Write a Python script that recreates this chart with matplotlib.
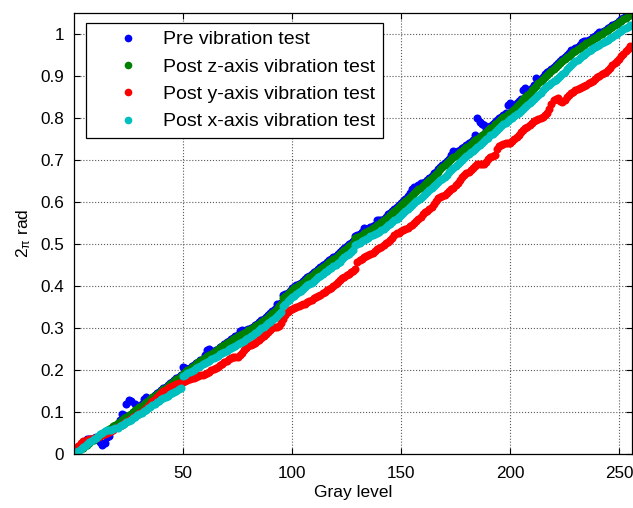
import matplotlib
matplotlib.use("Agg")
import matplotlib.pyplot as plt

# ========== data ==========
gray_levels = list(range(256))

pre_vibration = [
    0.002, 0.006, 0.010, 0.016, 0.024, 0.032, 0.035, 0.036, 0.036, 0.037,
    0.040, 0.035, 0.028, 0.022, 0.025, 0.040, 0.043, 0.058, 0.062, 0.066,
    0.072, 0.080, 0.095, 0.093, 0.118, 0.128, 0.126, 0.100, 0.120, 0.108,
    0.113, 0.120, 0.130, 0.136, 0.131, 0.128, 0.131, 0.140, 0.145, 0.147,
    0.152, 0.156, 0.160, 0.164, 0.168, 0.172, 0.176, 0.180, 0.184, 0.188,
    0.207, 0.205, 0.202, 0.205, 0.209, 0.212, 0.216, 0.220, 0.223, 0.227,
    0.235, 0.248, 0.250, 0.241, 0.244, 0.248, 0.251, 0.255, 0.258, 0.262,
    0.266, 0.269, 0.273, 0.276, 0.280, 0.284, 0.292, 0.295, 0.291, 0.294,
    0.297, 0.300, 0.303, 0.307, 0.310, 0.314, 0.318, 0.322, 0.326, 0.331,
    0.335, 0.340, 0.345, 0.358, 0.356, 0.360, 0.378, 0.380, 0.384, 0.389,
    0.394, 0.398, 0.401, 0.405, 0.408, 0.412, 0.416, 0.420, 0.424, 0.428,
    0.432, 0.436, 0.440, 0.444, 0.449, 0.453, 0.458, 0.461, 0.464, 0.468,
    0.471, 0.475, 0.480, 0.485, 0.490, 0.495, 0.499, 0.503, 0.507, 0.518,
    0.521, 0.524, 0.528, 0.538, 0.536, 0.536, 0.539, 0.542, 0.546, 0.556,
    0.557, 0.556, 0.560, 0.565, 0.570, 0.574, 0.579, 0.583, 0.588, 0.592,
    0.597, 0.602, 0.607, 0.613, 0.620, 0.630, 0.636, 0.636, 0.640, 0.644,
    0.644, 0.648, 0.653, 0.657, 0.662, 0.669, 0.672, 0.677, 0.683, 0.688,
    0.693, 0.697, 0.702, 0.712, 0.720, 0.718, 0.720, 0.724, 0.728, 0.730,
    0.735, 0.739, 0.743, 0.747, 0.760, 0.800, 0.790, 0.785, 0.783, 0.772,
    0.776, 0.781, 0.785, 0.790, 0.794, 0.799, 0.803, 0.807, 0.812, 0.831,
    0.835, 0.824, 0.828, 0.834, 0.839, 0.844, 0.867, 0.870, 0.862, 0.866,
    0.872, 0.877, 0.894, 0.890, 0.893, 0.898, 0.903, 0.908, 0.912, 0.917,
    0.921, 0.925, 0.930, 0.935, 0.940, 0.945, 0.949, 0.953, 0.962, 0.962,
    0.965, 0.968, 0.972, 0.980, 0.983, 0.982, 0.985, 0.988, 0.992, 0.995,
    1.000, 1.003, 1.005, 1.007, 1.010, 1.013, 1.016, 1.020, 1.022, 1.026,
    1.030, 1.034, 1.038, 1.042, 1.046, 1.050,
]

post_z = [
    0.000, 0.004, 0.007, 0.011, 0.015, 0.018, 0.022, 0.026, 0.030, 0.033,
    0.037, 0.041, 0.044, 0.048, 0.052, 0.055, 0.059, 0.063, 0.066, 0.070,
    0.074, 0.077, 0.081, 0.085, 0.088, 0.092, 0.096, 0.100, 0.104, 0.107,
    0.111, 0.115, 0.119, 0.123, 0.127, 0.131, 0.135, 0.139, 0.142, 0.146,
    0.150, 0.154, 0.158, 0.162, 0.166, 0.170, 0.174, 0.178, 0.182, 0.186,
    0.190, 0.195, 0.200, 0.203, 0.207, 0.210, 0.214, 0.218, 0.221, 0.225,
    0.228, 0.232, 0.235, 0.238, 0.242, 0.245, 0.249, 0.252, 0.256, 0.259,
    0.263, 0.266, 0.270, 0.273, 0.277, 0.280, 0.283, 0.286, 0.288, 0.291,
    0.294, 0.297, 0.300, 0.304, 0.307, 0.310, 0.314, 0.318, 0.322, 0.327,
    0.331, 0.336, 0.341, 0.346, 0.351, 0.356, 0.370, 0.376, 0.381, 0.386,
    0.390, 0.394, 0.397, 0.401, 0.404, 0.408, 0.412, 0.416, 0.420, 0.424,
    0.428, 0.432, 0.436, 0.440, 0.444, 0.448, 0.452, 0.456, 0.459, 0.463,
    0.466, 0.470, 0.475, 0.480, 0.485, 0.490, 0.494, 0.498, 0.502, 0.514,
    0.516, 0.519, 0.522, 0.525, 0.528, 0.531, 0.534, 0.537, 0.541, 0.544,
    0.547, 0.551, 0.556, 0.560, 0.565, 0.569, 0.574, 0.578, 0.583, 0.587,
    0.592, 0.597, 0.602, 0.607, 0.612, 0.617, 0.621, 0.625, 0.630, 0.634,
    0.638, 0.643, 0.648, 0.652, 0.657, 0.662, 0.667, 0.672, 0.678, 0.683,
    0.688, 0.692, 0.697, 0.701, 0.706, 0.710, 0.714, 0.718, 0.722, 0.726,
    0.730, 0.734, 0.738, 0.742, 0.746, 0.750, 0.754, 0.758, 0.762, 0.766,
    0.770, 0.775, 0.779, 0.784, 0.788, 0.793, 0.797, 0.801, 0.805, 0.808,
    0.812, 0.817, 0.822, 0.828, 0.833, 0.838, 0.844, 0.849, 0.855, 0.860,
    0.866, 0.871, 0.876, 0.882, 0.887, 0.892, 0.897, 0.902, 0.906, 0.911,
    0.916, 0.920, 0.925, 0.930, 0.935, 0.940, 0.944, 0.948, 0.952, 0.956,
    0.960, 0.963, 0.967, 0.970, 0.974, 0.977, 0.980, 0.983, 0.987, 0.990,
    0.993, 0.997, 1.000, 1.003, 1.007, 1.010, 1.014, 1.017, 1.021, 1.024,
    1.028, 1.031, 1.035, 1.038, 1.042, 1.045,
]

post_y = [
    0.003, 0.012, 0.020, 0.026, 0.030, 0.032, 0.034, 0.035, 0.036, 0.037,
    0.039, 0.041, 0.043, 0.045, 0.047, 0.050, 0.052, 0.055, 0.058, 0.061,
    0.064, 0.067, 0.070, 0.074, 0.077, 0.080, 0.084, 0.087, 0.090, 0.093,
    0.097, 0.101, 0.105, 0.110, 0.115, 0.120, 0.125, 0.130, 0.135, 0.140,
    0.145, 0.149, 0.153, 0.157, 0.160, 0.162, 0.164, 0.166, 0.168, 0.170,
    0.172, 0.174, 0.176, 0.178, 0.180, 0.181, 0.183, 0.185, 0.187, 0.189,
    0.191, 0.193, 0.196, 0.199, 0.202, 0.205, 0.208, 0.211, 0.215, 0.218,
    0.222, 0.225, 0.228, 0.230, 0.230, 0.231, 0.236, 0.241, 0.247, 0.253,
    0.256, 0.259, 0.262, 0.265, 0.268, 0.272, 0.276, 0.281, 0.285, 0.290,
    0.296, 0.299, 0.301, 0.303, 0.305, 0.312, 0.322, 0.330, 0.337, 0.342,
    0.345, 0.347, 0.349, 0.351, 0.354, 0.356, 0.358, 0.361, 0.364, 0.367,
    0.370, 0.373, 0.376, 0.379, 0.382, 0.386, 0.390, 0.393, 0.396, 0.400,
    0.405, 0.410, 0.414, 0.418, 0.422, 0.425, 0.428, 0.432, 0.435, 0.440,
    0.458, 0.462, 0.465, 0.468, 0.470, 0.473, 0.476, 0.479, 0.483, 0.487,
    0.490, 0.493, 0.497, 0.501, 0.505, 0.510, 0.515, 0.522, 0.525, 0.527,
    0.530, 0.532, 0.535, 0.538, 0.542, 0.545, 0.550, 0.555, 0.560, 0.565,
    0.570, 0.575, 0.579, 0.583, 0.587, 0.595, 0.603, 0.610, 0.612, 0.615,
    0.617, 0.621, 0.626, 0.630, 0.634, 0.640, 0.645, 0.652, 0.658, 0.664,
    0.669, 0.672, 0.675, 0.680, 0.685, 0.690, 0.690, 0.690, 0.690, 0.695,
    0.702, 0.706, 0.708, 0.712, 0.725, 0.732, 0.735, 0.738, 0.740, 0.740,
    0.741, 0.744, 0.750, 0.755, 0.760, 0.765, 0.770, 0.775, 0.778, 0.782,
    0.788, 0.792, 0.795, 0.798, 0.800, 0.802, 0.806, 0.812, 0.822, 0.832,
    0.842, 0.845, 0.846, 0.840, 0.838, 0.843, 0.850, 0.855, 0.858, 0.862,
    0.865, 0.868, 0.870, 0.873, 0.876, 0.879, 0.882, 0.885, 0.888, 0.892,
    0.896, 0.900, 0.904, 0.907, 0.910, 0.914, 0.918, 0.925, 0.931, 0.936,
    0.940, 0.946, 0.952, 0.958, 0.964, 0.970,
]

post_x = [
    0.000, 0.004, 0.008, 0.012, 0.016, 0.020, 0.024, 0.028, 0.031, 0.035,
    0.039, 0.043, 0.047, 0.051, 0.054, 0.056, 0.057, 0.058, 0.059, 0.061,
    0.063, 0.066, 0.069, 0.072, 0.076, 0.079, 0.082, 0.085, 0.088, 0.092,
    0.095, 0.098, 0.102, 0.105, 0.109, 0.112, 0.116, 0.119, 0.123, 0.126,
    0.130, 0.133, 0.136, 0.139, 0.142, 0.145, 0.148, 0.151, 0.154, 0.158,
    0.185, 0.189, 0.192, 0.195, 0.198, 0.201, 0.204, 0.207, 0.210, 0.213,
    0.216, 0.219, 0.222, 0.225, 0.228, 0.231, 0.234, 0.237, 0.240, 0.243,
    0.246, 0.249, 0.252, 0.255, 0.258, 0.261, 0.264, 0.267, 0.270, 0.273,
    0.277, 0.280, 0.284, 0.288, 0.291, 0.295, 0.299, 0.303, 0.307, 0.311,
    0.315, 0.319, 0.323, 0.328, 0.333, 0.338, 0.352, 0.358, 0.363, 0.368,
    0.373, 0.377, 0.381, 0.385, 0.389, 0.393, 0.397, 0.401, 0.404, 0.408,
    0.412, 0.416, 0.420, 0.424, 0.428, 0.432, 0.436, 0.440, 0.443, 0.447,
    0.450, 0.454, 0.458, 0.463, 0.468, 0.473, 0.477, 0.481, 0.485, 0.497,
    0.500, 0.503, 0.506, 0.509, 0.512, 0.515, 0.518, 0.521, 0.523, 0.526,
    0.528, 0.532, 0.536, 0.540, 0.544, 0.548, 0.552, 0.556, 0.560, 0.564,
    0.568, 0.573, 0.578, 0.583, 0.588, 0.593, 0.597, 0.601, 0.605, 0.610,
    0.614, 0.619, 0.624, 0.628, 0.633, 0.638, 0.643, 0.647, 0.651, 0.655,
    0.660, 0.665, 0.670, 0.675, 0.680, 0.685, 0.690, 0.695, 0.700, 0.705,
    0.710, 0.714, 0.718, 0.722, 0.726, 0.730, 0.735, 0.740, 0.745, 0.749,
    0.753, 0.758, 0.762, 0.767, 0.771, 0.776, 0.780, 0.784, 0.788, 0.792,
    0.796, 0.800, 0.804, 0.808, 0.812, 0.816, 0.820, 0.825, 0.830, 0.835,
    0.840, 0.845, 0.850, 0.855, 0.860, 0.865, 0.870, 0.875, 0.879, 0.883,
    0.887, 0.891, 0.895, 0.900, 0.905, 0.910, 0.915, 0.920, 0.925, 0.930,
    0.934, 0.938, 0.942, 0.946, 0.950, 0.954, 0.958, 0.962, 0.965, 0.968,
    0.971, 0.974, 0.977, 0.980, 0.983, 0.986, 0.989, 0.992, 0.996, 1.000,
    1.004, 1.007, 1.011, 1.014, 1.017, 1.020,
]

series_labels = [
    "Pre vibration test",
    "Post z-axis vibration test",
    "Post y-axis vibration test",
    "Post x-axis vibration test",
]
series_colors = ["#0000ff", "#008000", "#ff0000", "#00bfbf"]

x_ticks = [50, 100, 150, 200, 250]
y_ticks = [0, 0.1, 0.2, 0.3, 0.4, 0.5, 0.6, 0.7, 0.8, 0.9, 1]
y_ticklabels = ["0", "0.1", "0.2", "0.3", "0.4", "0.5", "0.6", "0.7", "0.8", "0.9", "1"]

# ========== style ==========
plt.rcParams["font.family"] = ["Liberation Sans", "DejaVu Sans"]
plt.rcParams["mathtext.fontset"] = "custom"
plt.rcParams["mathtext.rm"] = "Liberation Sans"
plt.rcParams["mathtext.default"] = "regular"

fig = plt.figure(figsize=(6.33, 5.08), dpi=100)
ax = fig.add_axes([0.1169, 0.1063, 0.8817, 0.8687])

for values, label, color in zip([pre_vibration, post_z, post_y, post_x],
                                series_labels, series_colors):
    ax.plot(gray_levels, values, linestyle="none", marker="o", markersize=5.8,
            markeredgewidth=0, color=color, label=label)

ax.set_xlim(0, 256)
ax.set_ylim(0, 1.05)
ax.set_xticks(x_ticks)
ax.set_yticks(y_ticks)
ax.set_yticklabels(y_ticklabels)
ax.tick_params(direction="in", top=True, right=True, length=4, width=0.8,
               labelsize=12.3, pad=7, colors="black")
ax.tick_params(axis="x", pad=8.5)
ax.grid(True, linestyle=":", color="0.35", linewidth=0.8)
for spine in ax.spines.values():
    spine.set_linewidth(0.9)
    spine.set_color("black")

ax.set_xlabel("Gray level", fontsize=12.5, labelpad=3)
ax.set_ylabel(r"2$_{\pi}$ rad", fontsize=12.5, labelpad=5)

leg = ax.legend(loc="upper left", bbox_to_anchor=(0.0215, 0.9767), borderaxespad=0,
                numpoints=1, fontsize=14, fancybox=False, framealpha=1,
                edgecolor="black", borderpad=0.4, handlelength=3.5,
                handletextpad=0.05, labelspacing=0.5, markerscale=0.95)
leg.get_frame().set_linewidth(0.9)

fig.savefig("out.png", dpi=100)
